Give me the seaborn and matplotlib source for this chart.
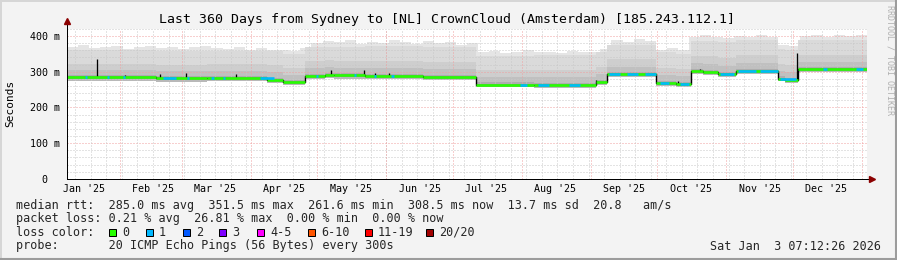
import numpy as np
import pandas as pd
import matplotlib
matplotlib.use("Agg")
import matplotlib.pyplot as plt
import seaborn as sns
from matplotlib.patches import Rectangle
from matplotlib.lines import Line2D
from matplotlib.ticker import FixedLocator

# ---------------- data ----------------
title = "Last 360 Days from Sydney to [NL] CrownCloud (Amsterdam) [185.243.112.1]"
start = pd.Timestamp("2025-01-08 07:12:26")
n_days = 360

# step segments (day offset from start) of the median rtt (ms) and smoke layers
seg_start = [0, 40, 63, 90, 97, 107, 116, 120, 134, 160, 184, 210, 238, 243, 265, 274,
             281, 286, 293, 301, 320, 323, 329]
median = [284, 282, 283, 277, 270, 289, 291, 290, 288, 286, 264, 263, 272, 293, 268, 265,
          303, 300, 293, 303, 281, 276, 307]
smoke_top = [360, 358, 358, 358, 350, 368, 370, 370, 372, 370, 344, 346, 356, 376, 354, 350,
             386, 386, 384, 388, 364, 362, 388]
smoke_l1 = [322, 320, 321, 318, 310, 330, 332, 331, 330, 328, 304, 304, 314, 335, 311, 307,
            345, 343, 338, 346, 323, 319, 348]
smoke_l2 = [304, 302, 303, 298, 291, 310, 312, 311, 310, 307, 284, 284, 293, 314, 290, 287,
            324, 322, 316, 324, 302, 298, 327]
smoke_l3 = [290, 288, 289, 283, 276, 295, 297, 296, 294, 292, 270, 269, 278, 299, 274, 271,
            309, 306, 299, 309, 287, 282, 313]
smoke_bot = [274, 272, 273, 268, 262, 280, 282, 281, 279, 277, 256, 255, 264, 285, 260, 257,
             295, 292, 285, 295, 273, 268, 299]

# outermost smoke fringe, read every 5 days
peak_day = list(range(0, 360, 5))
smoke_peak = [368, 374, 366, 370, 372, 364, 368, 373, 366, 370, 364, 368, 372, 366, 364, 368,
              362, 366,
              362, 360, 358,
              366,
              380, 386, 382, 390, 378, 384, 380, 388, 382, 378, 386, 380, 382, 376, 380,
              354, 358, 352, 356, 360, 354, 356, 352, 358, 354, 356,
              364,
              388, 384, 392, 386,
              362, 366, 360,
              396, 402, 398, 394, 400, 396, 404, 398,
              374, 372,
              400, 404, 398, 402, 400, 404]

# short-lived median spikes (day, ms)
spike_day = [13.5, 26, 42, 53.5, 76, 119, 133.7, 138.6, 145, 238, 275, 285, 328.5]
spike_val = [335, 290, 293, 297, 293, 306, 304, 296, 296, 276, 275, 307, 352]

# periods with 1 packet lost (blue median)
blue_start = [8, 18, 25, 43, 54, 65, 70, 87, 112, 129, 138, 146, 204, 212, 226, 244, 252,
              260, 267, 276, 294, 302, 312, 321, 340, 355]
blue_end = [9, 19, 26, 49, 55, 66, 71, 93, 113, 130, 139, 147, 207, 217, 231, 249, 257,
            265, 271, 280, 300, 310, 320, 328, 342, 358]

loss_labels = ["0", "1", "2", "3", "4-5", "6-10", "11-19", "20/20"]
loss_colors = ["#26ff00", "#00b8ff", "#0059ff", "#7e00ff", "#ff00ff", "#ff5500", "#ff0000", "#a10000"]

row1 = "median rtt:  285.0 ms avg  351.5 ms max  261.6 ms min  308.5 ms now  13.7 ms sd  20.8   am/s"
row2 = "packet loss: 0.21 % avg  26.81 % max  0.00 % min  0.00 % now"
row3 = "loss color:"
row4 = "probe:       20 ICMP Echo Pings (56 Bytes) every 300s"
stamp = "Sat Jan  3 07:12:26 2026"

# ---------------- style ----------------
sns.set_theme(style="white")
MONO = "DejaVu Sans Mono"
plt.rcParams["font.family"] = [MONO, "DejaVu Sans"]

W, H = 897, 260
fig = plt.figure(figsize=(W / 100, H / 100), dpi=100, facecolor="#f3f3f3")

def fx(px):
    return px / W

def fy(py):
    return 1 - py / H

PX = 0.72  # one pixel in points

x_left, x_right = 67, 867
y_top, y_bot = 28.9, 178.8
ax = fig.add_axes([fx(x_left), fy(y_bot), fx(x_right - x_left), (y_bot - y_top) / H])
ax.set_facecolor("white")
ax.set_xlim(0, n_days)
ax.set_ylim(0, 420)

xs = np.array(seg_start + [n_days], dtype=float)

def ext(a):
    return np.array(list(a) + [a[-1]], dtype=float)

# smoke fringe at 5-day resolution (drawn first, covered by the denser smoke)
px_ = np.array(peak_day + [n_days], dtype=float)
l1_at_peak = np.array([smoke_l1[np.searchsorted(seg_start, d, side="right") - 1] for d in peak_day])
ax.fill_between(px_, ext(l1_at_peak), ext(smoke_peak), step="post", color="#e5e5e5", lw=0, zorder=1)

# smoke layers
ax.fill_between(xs, ext(smoke_l1), ext(smoke_top), step="post", color="#dadada", lw=0, zorder=1)
ax.fill_between(xs, ext(smoke_l2), ext(smoke_l1), step="post", color="#cecece", lw=0, zorder=1)
ax.fill_between(xs, ext(smoke_l3), ext(smoke_l2), step="post", color="#c0c0c0", lw=0, zorder=1)
ax.fill_between(xs, ext(median), ext(smoke_l3), step="post", color="#adadad", lw=0, zorder=1)
ax.fill_between(xs, ext(smoke_bot), ext(median), step="post", color="#b8b8b8", lw=0, zorder=1)

# grid
dotted = (0, (1, 2))
for v in range(20, 421, 20):
    if v % 100:
        ax.axhline(v, color="#c8c8c8", lw=PX, ls=dotted, zorder=2)
for v in range(100, 401, 100):
    ax.axhline(v, color="#f0a0a0", lw=PX, ls=dotted, zorder=2)

end = start + pd.Timedelta(days=n_days)
weeks = pd.date_range(start.normalize(), end, freq="W-SUN")
for d in weeks:
    off = (d - start) / pd.Timedelta(days=1)
    if 0 < off < n_days:
        ax.axvline(off, color="#c8c8c8", lw=PX, ls=dotted, zorder=2)
months = pd.date_range("2025-01-01", end, freq="MS")
for d in months:
    off = (d - start) / pd.Timedelta(days=1)
    if 0 < off < n_days:
        ax.axvline(off, color="#f0a0a0", lw=PX, ls=dotted, zorder=2)

# median line
df = pd.DataFrame({"day": xs, "rtt": ext(median)})
sns.lineplot(data=df, x="day", y="rtt", drawstyle="steps-post", color="black",
             lw=1.4 * PX, ax=ax, zorder=3)
ax.vlines(spike_day, [median[np.searchsorted(seg_start, d, side="right") - 1] for d in spike_day],
          spike_val, color="black", lw=1.3 * PX, zorder=3)
ax.hlines(median, seg_start, xs[1:], color=loss_colors[0], lw=2.6 * PX, zorder=4)
b_vals = [median[np.searchsorted(seg_start, d, side="right") - 1] for d in blue_start]
ax.hlines(b_vals, blue_start, blue_end, color=loss_colors[1], lw=2.6 * PX, zorder=4)

# axes cosmetics
for s in ["top", "right"]:
    ax.spines[s].set_visible(False)
for s in ["left", "bottom"]:
    ax.spines[s].set_color("black")
    ax.spines[s].set_linewidth(PX)
    ax.spines[s].set_zorder(5)
ax.set_xlabel("")
ax.set_ylabel("")

ax.yaxis.set_major_locator(FixedLocator([0, 100, 200, 300, 400]))
ax.set_yticklabels(["0  ", "100 m", "200 m", "300 m", "400 m"])
mids = [pd.Timestamp(f"{d.year}-{d.month:02d}-16") for d in pd.date_range("2025-01-01", "2025-12-31", freq="MS")]
mid_off = [(d - start) / pd.Timedelta(days=1) for d in mids]
ax.xaxis.set_major_locator(FixedLocator(mid_off))
ax.set_xticklabels([d.strftime("%b '%y") for d in mids])
ax.tick_params(axis="both", length=0, labelsize=7.2, colors="black", labelcolor="#000000")
ax.tick_params(axis="y", pad=5)
ax.tick_params(axis="x", pad=3.5)
for lab in ax.get_xticklabels() + ax.get_yticklabels():
    lab.set_family(MONO)

# arrows
ax.plot([0, 0], [1, 1.05], transform=ax.transAxes, color="black", lw=PX, clip_on=False, zorder=5)
ax.plot([1, 1.004], [0, 0], transform=ax.transAxes, color="black", lw=PX, clip_on=False, zorder=5)
ax.plot([0], [1.055], transform=ax.transAxes, marker="^", color="#8b0000", ms=5, clip_on=False, zorder=6)
ax.plot([1.006], [0], transform=ax.transAxes, marker=">", color="#8b0000", ms=5, clip_on=False, zorder=6)

# texts
fig.text(fx(447), fy(19.5), title, ha="center", va="center", fontsize=9.5, family=MONO, color="black")
fig.text(fx(10), fy(103), "Seconds", rotation=90, ha="center", va="center", fontsize=8.0,
         family=MONO, color="black")
fig.text(fx(890), fy(60), "RRDTOOL / TOBI OETIKER", rotation=-90, ha="center", va="center",
         fontsize=6.0, family=MONO, color="#b0b0b0")

LF = 8.5
fig.text(fx(16), fy(205), row1, ha="left", va="center", fontsize=LF, family=MONO)
fig.text(fx(16), fy(218.5), row2, ha="left", va="center", fontsize=LF, family=MONO)
fig.text(fx(16), fy(232), row3, ha="left", va="center", fontsize=LF, family=MONO)
fig.text(fx(16), fy(246), row4, ha="left", va="center", fontsize=LF, family=MONO)
fig.text(fx(881), fy(246), stamp, ha="right", va="center", fontsize=LF, family=MONO)

box_x = [109, 146, 183, 219, 257, 308, 365, 426]
for bx, lab, col in zip(box_x, loss_labels, loss_colors):
    fig.patches.append(Rectangle((fx(bx), fy(235.5)), fx(7), 7 / H, transform=fig.transFigure,
                                 facecolor=col, edgecolor="black", lw=PX))
    fig.text(fx(bx + 13), fy(232), lab, ha="left", va="center", fontsize=LF, family=MONO)

# frame
fig.add_artist(Line2D([0, 1], [fy(0.5), fy(0.5)], transform=fig.transFigure, color="#d6d6d6", lw=1.4))
fig.add_artist(Line2D([fx(0.5), fx(0.5)], [0, 1], transform=fig.transFigure, color="#d6d6d6", lw=1.4))
fig.add_artist(Line2D([0, 1], [fy(259), fy(259)], transform=fig.transFigure, color="#9c9c9c", lw=1.5))
fig.add_artist(Line2D([fx(896), fx(896)], [0, 1], transform=fig.transFigure, color="#9c9c9c", lw=1.5))

fig.savefig("out.png", dpi=100, facecolor=fig.get_facecolor())
